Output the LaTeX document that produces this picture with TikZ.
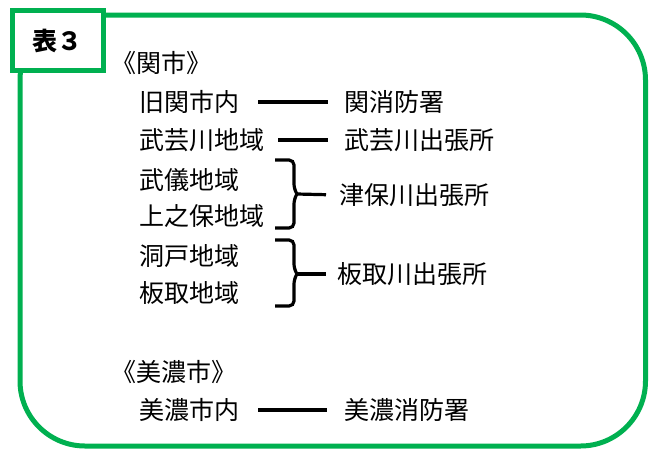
\documentclass[tikz,border=0pt]{standalone}
\usepackage{fontspec}
\newfontfamily\jp{Noto Sans CJK JP}
\definecolor{grn}{RGB}{0,176,80}
\begin{document}
\begin{tikzpicture}[x=1pt,y=-1pt,
  txt/.style={font=\jp\fontsize{25}{30}\selectfont, inner sep=0pt, anchor=west},
  conn/.style={line width=3.2pt},
  brc/.style={line width=3.2pt, rounded corners=5pt},
  frame/.style={draw=grn, line width=5pt}]
\useasboundingbox (0,0) rectangle (659,459);
\draw[frame, rounded corners=65pt] (20,15) rectangle (645.5,446);
\node[frame, fill=white, minimum width=91pt, minimum height=60pt, inner sep=0pt,
  font=\jp\bfseries\fontsize{25}{30}\selectfont] (tag) at (57.5,40.5) {表３};
% Seki city
\node[txt] (seki) at (111,63) {《関市》};
\node[txt] (a1) at (139,102) {旧関市内};
\node[txt] (a2) at (139,140) {武芸川地域};
\node[txt] (a3) at (139,180) {武儀地域};
\node[txt] (a4) at (139,216) {上之保地域};
\node[txt] (a5) at (139,256) {洞戸地域};
\node[txt] (a6) at (139,293) {板取地域};
\node[txt] (b1) at (344,102) {関消防署};
\node[txt] (b2) at (344,140) {武芸川出張所};
\node[txt] (b3) at (339,195) {津保川出張所};
\node[txt] (b4) at (337,274) {板取川出張所};
% Mino city
\node[txt] (mino) at (111,372) {《美濃市》};
\node[txt] (a7) at (139,410) {美濃市内};
\node[txt] (b7) at (344,410) {美濃消防署};
% connectors
\draw[conn, shorten <=19pt, shorten >=16pt] (a1.east) -- (b1.west);
\draw[conn, shorten <=14pt, shorten >=16pt] (a2.east) -- (b2.west);
\draw[conn, shorten <=19pt, shorten >=17pt] (a7.east) -- (b7.west);
% braces
\coordinate (t1) at (297,194);
\coordinate (t2) at (297,274);
\draw[brc] (275,160) -- (294,160) -- (294,189) -- (t1);
\draw[brc] (275,228) -- (294,228) -- (294,199) -- (t1);
\draw[conn, shorten >=13pt] (t1) -- (b3.west);
\draw[brc] (275,240) -- (294,240) -- (294,269) -- (t2);
\draw[brc] (275,306) -- (294,306) -- (294,279) -- (t2);
\draw[conn, shorten >=11pt] (t2) -- (b4.west);
\end{tikzpicture}
\end{document}
